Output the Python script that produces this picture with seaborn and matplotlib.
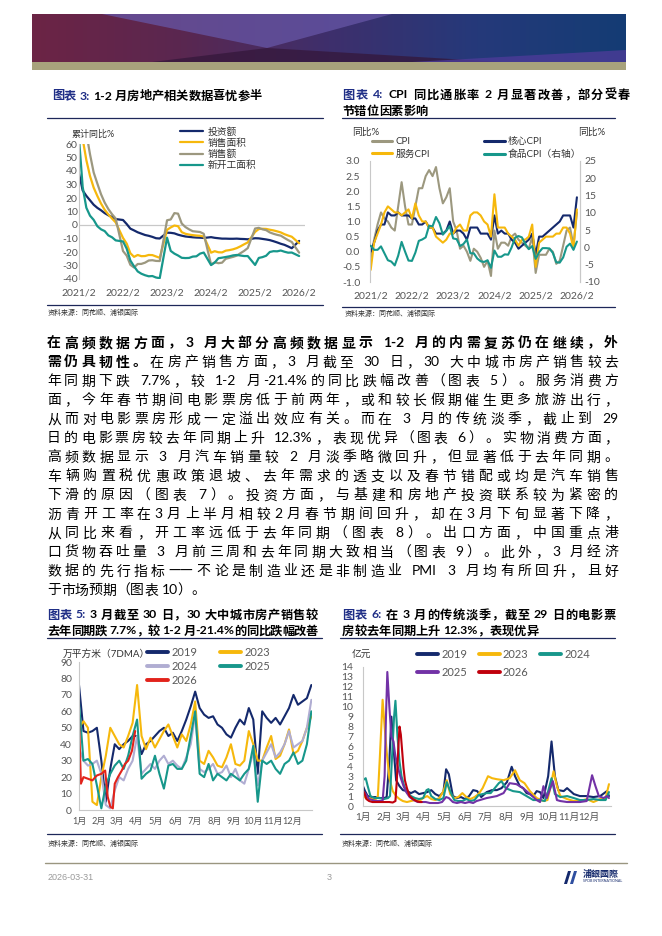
import re
import numpy as np
import pandas as pd
import seaborn as sns
import matplotlib
matplotlib.use('Agg')
import matplotlib.pyplot as plt
from matplotlib.lines import Line2D
from matplotlib.patches import Polygon

W, H = 662, 936

# ---------------- data ----------------
# chart 3: cumulative yoy %, monthly (no January)
re_series = ['投资额', '销售面积', '销售额', '新开工面积']
re_invest = [38.3, 25.6, 21.6, 18.3, 15.0, 12.7, 10.9, 8.8, 7.2, 6.0, 4.4,
             3.7, 0.7, -2.7, -4.0, -5.4, -6.4, -7.4, -8.0, -8.8, -9.8, -10.0,
             -5.7, -5.8, -6.2, -7.2, -7.9, -8.5, -8.8, -9.1, -9.3, -9.4, -9.6,
             -9.0, -9.5, -9.8, -10.1, -10.1, -10.2, -10.2, -10.1, -10.3, -10.4, -10.6,
             -9.8, -9.9, -10.3, -10.7, -11.2, -12.0, -12.9, -13.9, -14.7, -15.9, -17.2,
             -11.8]
re_area = [104.9, 63.8, 48.1, 36.3, 27.7, 21.5, 15.9, 11.3, 7.8, 4.8, 1.9,
           -9.6, -13.8, -20.9, -23.6, -22.2, -23.1, -23.0, -22.2, -22.3, -23.3, -24.3,
           -3.6, -1.8, -0.4, -0.9, -5.3, -6.5, -7.1, -7.5, -7.8, -8.0, -8.5,
           -20.5, -19.4, -20.2, -20.3, -19.0, -18.6, -18.0, -17.1, -15.8, -14.3, -12.9,
           -5.1, -3.0, -2.8, -2.9, -3.5, -4.0, -4.7, -5.5, -6.8, -7.8, -8.7,
           -13.5]
re_amount = [133.4, 88.5, 68.2, 52.4, 38.9, 30.7, 22.8, 16.6, 11.8, 8.0, 4.8,
             -19.3, -22.7, -29.5, -31.5, -28.9, -28.8, -27.9, -26.3, -26.1, -26.6, -26.7,
             3.5, 4.1, 8.8, 8.4, 1.1, -1.5, -3.2, -4.6, -4.9, -5.2, -6.5,
             -29.3, -27.6, -28.3, -27.9, -25.0, -24.3, -23.6, -22.7, -20.9, -19.2, -17.1,
             -2.6, -2.1, -3.2, -3.8, -5.5, -6.5, -7.3, -7.9, -9.6, -11.2, -12.6,
             -20.5]
re_newstart = [64.3, 28.2, 12.8, 6.9, 3.8, -0.9, -3.2, -4.5, -7.7, -9.1, -11.4,
               -12.2, -17.5, -26.3, -30.6, -34.4, -36.1, -37.2, -38.0, -37.8, -38.9, -39.4,
               -9.4, -19.2, -21.2, -22.6, -24.3, -24.5, -24.4, -23.4, -23.2, -21.2, -20.4,
               -29.7, -27.8, -24.6, -24.2, -23.7, -23.2, -22.5, -22.2, -22.6, -23.0, -23.0,
               -29.6, -24.4, -23.8, -22.8, -20.0, -19.4, -19.5, -18.9, -19.8, -20.5, -20.4,
               -23.0]
re_months = [p for p in pd.period_range('2021-02', '2026-02', freq='M') if p.month != 1]

# chart 4: CPI yoy %, 2021/2 - 2026/2
cpi_months = list(pd.period_range('2021-02', '2026-02', freq='M'))
cpi = [-0.2, 0.4, 0.9, 1.3, 1.1, 1.0, 0.8, 0.7, 1.5, 2.3, 1.5,
       0.9, 0.9, 1.5, 2.1, 2.1, 2.5, 2.7, 2.5, 2.8, 2.1, 1.6, 1.8,
       2.1, 1.0, 0.7, 0.1, 0.2, 0.0, -0.3, 0.1, 0.0, -0.2, -0.5, -0.3,
       -0.8, 0.7, 0.1, 0.3, 0.3, 0.2, 0.5, 0.6, 0.4, 0.3, 0.2, 0.1,
       0.5, -0.7, -0.1, -0.1, -0.1, 0.1, 0.0, -0.4, -0.3, 0.2, 0.7, 0.8,
       0.2, 1.3]
core_cpi = [0.0, 0.3, 0.7, 0.9, 0.9, 1.3, 1.2, 1.2, 1.3, 1.2, 1.2,
            1.2, 1.1, 1.1, 0.9, 0.9, 1.0, 0.8, 0.8, 0.6, 0.6, 0.6, 0.7,
            1.0, 0.6, 0.7, 0.7, 0.6, 0.4, 0.8, 0.8, 0.8, 0.6, 0.6, 0.6,
            0.4, 1.2, 0.6, 0.7, 0.6, 0.6, 0.4, 0.3, 0.1, 0.2, 0.3, 0.4,
            0.6, -0.1, 0.5, 0.5, 0.6, 0.7, 0.8, 0.9, 1.0, 1.2, 1.2, 1.2,
            0.8, 1.8]
service_cpi = [-0.6, 0.3, 0.6, 0.9, 1.3, 1.5, 1.4, 1.3, 1.3, 1.2, 1.3,
               1.4, 1.1, 1.6, 1.2, 1.0, 1.0, 0.8, 0.8, 0.5, 0.4, 0.3, 0.4,
               0.6, 0.6, 0.8, 0.9, 0.7, 0.7, 1.2, 1.3, 1.3, 1.2, 1.0, 0.9,
               0.5, 1.9, 0.8, 0.8, 0.8, 0.6, 0.5, 0.4, 0.2, 0.4, 0.4, 0.5,
               0.9, -0.5, 0.3, 0.4, 0.5, 0.5, 0.5, 0.6, 0.6, 0.8, 0.8, 0.6,
               0.1, 1.4]
food_cpi = [0.5, -0.7, -0.7, 0.3, -1.7, -3.7, -4.1, -5.2, -2.4, 1.6, -1.2,
            -3.8, -3.9, -1.5, 1.9, 2.3, 2.9, 6.3, 6.1, 8.8, 7.0, 3.7, 4.8,
            6.2, 2.6, 2.4, 0.4, 1.0, 2.3, -1.7, -1.7, -3.2, -4.0, -4.2, -3.7,
            -5.9, -0.9, -2.7, -2.7, -2.0, -2.1, 0.0, 2.8, 3.3, 2.9, 1.0, -0.5,
            0.4, -3.3, -1.4, -0.2, -0.2, -0.3, -1.6, -4.3, -4.4, -2.9, 0.2, 1.1,
            -0.7, 1.7]

# chart 5: 30-city property sales, 7DMA, sampled weekly by day of year
sales_days = np.arange(1, 366, 7)
sales_2019 = [76, 48, 47, 48, 50, 30, 5, 25, 40, 37, 40, 42, 45, 45, 34, 40, 42, 45, 48, 50,
              45, 47, 42, 48, 55, 63, 72, 62, 58, 56, 57, 52, 50, 46, 44, 50, 55, 52, 62, 55,
              22, 60, 56, 53, 56, 52, 57, 62, 70, 64, 66, 68, 76]
sales_2023 = [50, 54, 50, 5, 3, 20, 33, 50, 45, 40, 38, 45, 53, 76, 45, 37, 44, 38, 43, 48,
              52, 45, 38, 46, 42, 52, 66, 30, 28, 36, 32, 27, 26, 32, 40, 28, 27, 30, 48, 40,
              30, 30, 38, 45, 31, 33, 40, 49, 34, 36, 42, 50, 57]
sales_2024 = [38, 30, 27, 28, 30, 22, 3, 1, 12, 20, 18, 25, 30, 45, 22, 25, 28, 25, 30, 33,
              28, 30, 27, 25, 32, 40, 58, 25, 23, 25, 28, 22, 23, 27, 20, 25, 18, 16, 25, 35,
              15, 30, 35, 40, 32, 35, 40, 48, 38, 40, 42, 50, 67]
sales_2025 = [65, 30, 31, 28, 15, 1, 15, 22, 27, 30, 25, 33, 45, 55, 19, 22, 24, 33, 22, 13,
              27, 28, 25, 25, 30, 45, 60, 22, 20, 28, 18, 22, 20, 18, 22, 20, 18, 22, 25, 39,
              5, 30, 28, 30, 25, 22, 28, 30, 35, 28, 30, 40, 60]
sales_2026_days = [1, 4, 8, 15, 22, 29, 36, 42, 46, 50, 54, 57, 62, 68, 73, 78, 84, 89]
sales_2026 = [55, 16, 20, 19, 18, 21, 22, 24, 8, 2, 1, 16, 20, 24, 28, 30, 36, 48]

# chart 6: daily box office, 100m yuan
bo_2019_days = [1, 4, 8, 14, 20, 26, 32, 36, 40, 43, 46, 50, 55, 60, 66, 72, 78, 84, 90, 96,
                102, 108, 114, 120, 124, 128, 134, 140, 146, 152, 158, 164, 170, 176, 184, 192,
                199, 206, 214, 221, 226, 233, 238, 243, 248, 253, 258, 263, 268, 275, 280, 285,
                290, 298, 303, 313, 322, 332, 342, 352, 362, 365]
bo_2019 = [2.0, 1.5, 1.0, 0.9, 0.9, 0.8, 0.8, 0.9, 4.5, 9.0, 6.0, 2.6, 2.0, 1.6, 1.5, 1.3, 1.5,
           1.2, 1.3, 1.4, 1.6, 1.2, 1.0, 1.4, 3.7, 3.2, 1.0, 0.8, 0.9, 0.7, 1.0, 1.6, 1.5, 0.9,
           1.4, 1.6, 1.6, 1.8, 2.4, 3.95, 3.0, 2.0, 1.8, 1.3, 1.2, 1.0, 1.5, 1.4, 0.8, 3.0, 6.5,
           3.0, 1.6, 1.5, 1.8, 1.2, 1.0, 1.0, 0.9, 1.0, 1.5, 1.0]
bo_2023_days = [1, 5, 10, 15, 20, 23, 26, 30, 33, 36, 40, 45, 50, 55, 60, 66, 72, 78, 84, 90,
                96, 102, 108, 114, 120, 125, 130, 136, 142, 148, 154, 160, 166, 172, 178, 186,
                192, 199, 209, 218, 226, 233, 240, 248, 258, 268, 274, 278, 283, 288, 293, 303,
                313, 322, 332, 342, 352, 360, 365]
bo_2023 = [1.1, 0.8, 0.8, 0.7, 0.7, 1.0, 5.0, 10.7, 8.0, 5.5, 2.8, 1.5, 1.0, 0.7, 0.5, 0.4,
           0.5, 0.6, 0.5, 0.8, 1.0, 0.7, 0.6, 0.8, 1.5, 2.6, 1.2, 0.8, 0.9, 1.3, 0.9, 0.7, 0.9,
           1.2, 1.8, 3.0, 2.8, 2.7, 2.6, 2.8, 3.6, 2.6, 2.3, 1.5, 0.8, 0.5, 0.6, 1.8, 3.5, 2.0,
           1.0, 0.7, 0.5, 0.5, 0.7, 0.4, 0.7, 0.8, 2.2]
bo_2024_days = [1, 5, 8, 12, 18, 25, 32, 38, 41, 44, 47, 49, 52, 55, 58, 62, 66, 72, 78, 84,
                90, 95, 98, 102, 108, 114, 120, 125, 130, 136, 142, 148, 154, 160, 166, 172,
                178, 184, 190, 196, 202, 206, 212, 223, 233, 243, 253, 263, 270, 275, 280, 285,
                293, 303, 313, 322, 332, 342, 352, 360, 365]
bo_2024 = [2.6, 2.8, 2.0, 1.0, 0.8, 0.8, 0.7, 0.8, 1.0, 5.0, 9.0, 10.6, 7.0, 4.5, 3.0, 2.0,
           1.4, 1.0, 0.8, 0.7, 0.8, 1.6, 1.7, 1.0, 0.7, 0.6, 0.8, 2.4, 1.5, 0.6, 0.5, 0.5, 0.7,
           0.5, 0.6, 1.1, 1.2, 1.3, 1.3, 1.8, 2.3, 2.5, 1.8, 1.5, 1.4, 1.0, 0.6, 0.6, 0.5, 1.5,
           2.8, 1.2, 0.9, 1.0, 0.8, 0.6, 0.6, 0.7, 0.6, 0.6, 1.4]
bo_2025_days = [1, 5, 10, 15, 20, 25, 30, 33, 35, 37, 40, 43, 46, 49, 53, 57, 61, 65, 70, 76,
                82, 88, 94, 100, 106, 112, 118, 124, 128, 134, 140, 146, 152, 158, 164, 169,
                184, 199, 209, 218, 228, 238, 248, 258, 263, 268, 273, 282, 288, 293, 303, 313,
                322, 332, 340, 345, 350, 357, 362, 365]
bo_2025 = [1.5, 1.2, 0.7, 0.6, 0.5, 0.5, 0.5, 3.0, 9.0, 13.5, 10.0, 7.0, 6.5, 5.0, 3.8, 2.8,
           2.0, 1.4, 0.9, 0.6, 0.4, 0.4, 0.4, 0.3, 0.3, 0.3, 0.4, 0.9, 0.8, 0.4, 0.3, 0.4, 0.3,
           0.4, 0.3, 0.5, 0.8, 1.0, 1.3, 2.3, 2.2, 1.8, 1.2, 0.6, 0.4, 2.0, 0.8, 2.5, 0.6, 0.5,
           0.4, 0.4, 0.4, 0.5, 3.1, 2.0, 1.0, 0.8, 1.0, 0.8]
bo_2026_days = [1, 3, 6, 10, 15, 20, 25, 30, 35, 40, 45, 49, 51, 53, 55, 57, 59, 61, 63, 66,
                70, 75, 80, 85, 88]
bo_2026 = [1.5, 1.3, 0.7, 0.5, 0.4, 0.4, 0.4, 0.4, 0.4, 0.4, 0.35, 0.5, 2.5, 5.5, 8.0, 7.2,
           5.5, 3.8, 2.6, 1.8, 1.0, 0.7, 0.5, 0.4, 0.4]

month_starts = [1, 32, 60, 91, 121, 152, 182, 213, 244, 274, 305, 335]
month_labels = [f'{i}月' for i in range(1, 13)]

B, N = 'bold', 'normal'
body_lines = [
    [('在高频数据方面，3 月大部分高频数据显示 1-2 月的内需复苏仍在继续，外', B)],
    [('需仍具韧性。', B), ('在房产销售方面，3 月截至 30 日，30 大中城市房产销售较去', N)],
    [('年同期下跌 7.7%，较 1-2 月-21.4%的同比跌幅改善（图表 5）。服务消费方', N)],
    [('面，今年春节期间电影票房低于前两年，或和较长假期催生更多旅游出行，', N)],
    [('从而对电影票房形成一定溢出效应有关。而在 3 月的传统淡季，截止到 29', N)],
    [('日的电影票房较去年同期上升 12.3%，表现优异（图表 6）。实物消费方面，', N)],
    [('高频数据显示 3 月汽车销量较 2 月淡季略微回升，但显著低于去年同期。', N)],
    [('车辆购置税优惠政策退坡、去年需求的透支以及春节错配或均是汽车销售', N)],
    [('下滑的原因（图表 7）。投资方面，与基建和房地产投资联系较为紧密的', N)],
    [('沥青开工率在3月上半月相较2月春节期间回升，却在3月下旬显著下降，', N)],
    [('从同比来看，开工率远低于去年同期（图表 8）。出口方面，中国重点港', N)],
    [('口货物吞吐量 3 月前三周和去年同期大致相当（图表 9）。此外，3 月经济', N)],
    [('数据的先行指标——不论是制造业还是非制造业 PMI 3 月均有所回升，且好', N)],
    [('于市场预期（图表 10）。', N)],
]

# ---------------- style ----------------
NAVY = '#14296c'
YELLOW = '#f6b80c'
OLIVE = '#9c987f'
TEAL = '#17978b'
LAV = '#b0add2'
RED = '#e2231b'
DRED = '#c0000c'
PURPLE = '#7232a6'
TBLUE = '#1f2e86'
RULE = '#1d2759'
GRID = '#c8c8c8'
TICK = '#555555'

sns.set_style('white')
plt.rcParams['font.family'] = ['Lato', 'Noto Sans CJK SC', 'DejaVu Sans']
plt.rcParams['axes.unicode_minus'] = False

fig = plt.figure(figsize=(W / 100, H / 100), dpi=100)
renderer = fig.canvas.get_renderer()


def px_rect(x0, y0, x1, y1):
    return [x0 / W, 1 - y1 / H, (x1 - x0) / W, (y1 - y0) / H]


def hline(x0, x1, y, color, lw=0.9):
    fig.add_artist(Line2D([x0 / W, x1 / W], [1 - y / H, 1 - y / H], color=color, lw=lw))


def put(x, y, s, **kw):
    kw.setdefault('va', 'center')
    return fig.text(x / W, 1 - y / H, s, **kw)


def text_line(segs, x0, y, size, x1=None):
    # lay a line out token by token, spreading it to x1 when given
    toks = []
    for seg in segs:
        s, w = seg[0], seg[1]
        c = seg[2] if len(seg) > 2 else 'black'
        for t in re.findall(r'[0-9A-Za-z.%:\-]+|—+| |.', s):
            toks.append((t, w, c))
    arts, widths = [], []
    for t, w, c in toks:
        if t == ' ':
            arts.append(None)
            widths.append(size * 100 / 72 * 0.25)
            continue
        kw = {}
        if t.startswith('—'):
            kw['family'] = ['Noto Sans CJK SC']
        a = put(0, y, t, fontsize=size, fontweight=w, color=c, ha='left', **kw)
        widths.append(a.get_window_extent(renderer).width)
        arts.append(a)
    gap = 0
    if x1 is not None and len(toks) > 1:
        gap = (x1 - x0 - sum(widths)) / (len(toks) - 1)
    x = x0
    for a, wd in zip(arts, widths):
        if a is not None:
            a.set_x(x / W)
        x += wd + gap


def style_ax(ax, left=True, bottom=False, right=False, size=7.5):
    for k, s in ax.spines.items():
        s.set_visible(False)
    for k, on in (('left', left), ('bottom', bottom), ('right', right)):
        if on:
            ax.spines[k].set_visible(True)
            ax.spines[k].set_color(GRID)
            ax.spines[k].set_linewidth(0.8)
    ax.tick_params(length=0, labelsize=size, labelcolor=TICK)
    ax.set_xlabel('')
    ax.set_ylabel('')


# ---------------- header banner ----------------
bax = fig.add_axes(px_rect(32, 14, 626, 70))
grad = np.linspace(0, 1, 256)[None, :]
cmap = matplotlib.colors.LinearSegmentedColormap.from_list(
    'ban', ['#6c2445', '#5a2750', '#3e2f6c', '#25397a', '#143c74'])
bax.imshow(grad, aspect='auto', cmap=cmap, extent=(0, 594, 56, 0))
bax.add_patch(Polygon([(70, 0), (360, 0), (235, 34)], color='#6656a6', alpha=0.75, lw=0))
bax.add_patch(Polygon([(120, 48), (470, 48), (235, 34)], color='#34173a', alpha=0.75, lw=0))
bax.add_patch(Polygon([(380, 48), (594, 36), (594, 48)], color='#4c3b98', alpha=0.8, lw=0))
bax.add_patch(Polygon([(0, 48), (594, 48), (594, 56), (0, 56)], color='#a8a27c', lw=0))
bax.set_xlim(0, 594)
bax.set_ylim(56, 0)
bax.axis('off')

# ---------------- chart 3 ----------------
text_line([('图表 3: ', B, TBLUE), ('1-2 月房地产相关数据喜忧参半', B)], 52, 96, 8.8)
hline(47, 323, 118, RULE)
hline(47, 323, 305, RULE)
put(48, 312, '资料来源：同花顺、浦银国际', fontsize=5, color='#333333')

m_idx = [(p.year - 2021) * 12 + p.month - 2 for p in re_months]
df3 = pd.concat([pd.DataFrame({'m': m_idx, 'v': vals, 's': name})
                 for name, vals in zip(re_series, [re_invest, re_area, re_amount, re_newstart])])
ax3 = fig.add_axes(px_rect(79, 144, 305, 279))
sns.lineplot(data=df3, x='m', y='v', hue='s', hue_order=re_series,
             palette=[NAVY, YELLOW, OLIVE, TEAL], lw=1.6, estimator=None, ax=ax3)
ax3.axhline(0, color=GRID, lw=0.9, zorder=0)
ax3.set_ylim(-40, 60)
ax3.set_xlim(0, 61.6)
ax3.set_yticks(range(-40, 61, 10))
ax3.set_xticks(range(0, 61, 12))
ax3.set_xticklabels([f'{y}/2' for y in range(2021, 2027)])
style_ax(ax3)
ax3.tick_params(axis='y', pad=1)
ax3.tick_params(axis='x', pad=7)
h, l = ax3.get_legend_handles_labels()
leg = ax3.legend(h, l, loc='upper left', bbox_to_anchor=(180 / W, 1 - 127 / H),
                 bbox_transform=fig.transFigure, frameon=False, fontsize=7,
                 handlelength=2.4, handletextpad=0.4, labelspacing=0.18, borderpad=0,
                 borderaxespad=0)
for t in leg.get_texts():
    t.set_color('#333333')
put(72, 134, '累计同比%', fontsize=6.5, color='#333333', ha='left')

# ---------------- chart 4 ----------------
text_line([('图表 4: ', B, TBLUE), ('CPI 同比通胀率 2 月显著改善，部分受春', B)], 342, 95, 8.8, 630)
text_line([('节错位因素影响', B)], 342, 111, 8.8)
hline(342, 615, 118, RULE)
hline(342, 615, 307, RULE)
put(345, 313, '资料来源：同花顺、浦银国际', fontsize=5, color='#333333')

c_idx = [(p.year - 2021) * 12 + p.month - 2 for p in cpi_months]
left_names = ['CPI', '核心CPI', '服务CPI']
df4 = pd.concat([pd.DataFrame({'m': c_idx, 'v': vals, 's': name})
                 for name, vals in zip(left_names, [cpi, core_cpi, service_cpi])])
ax4 = fig.add_axes(px_rect(370, 161, 580, 282))
sns.lineplot(data=df4, x='m', y='v', hue='s', hue_order=left_names,
             palette=[OLIVE, NAVY, YELLOW], lw=1.5, estimator=None, ax=ax4, legend=False)
ax4r = ax4.twinx()
sns.lineplot(x=c_idx, y=food_cpi, color=TEAL, lw=1.5, ax=ax4r)
ax4.set_ylim(-1, 3)
ax4.set_yticks(np.arange(-1, 3.01, 0.5))
ax4.set_yticklabels([f'{v:.1f}' for v in np.arange(-1, 3.01, 0.5)])
ax4r.set_ylim(-10, 25)
ax4r.set_yticks(range(-10, 26, 5))
ax4.set_xlim(-0.2, 60.9)
ax4.set_xticks(range(0, 61, 12))
ax4.set_xticklabels([f'{y}/2' for y in range(2021, 2027)])
style_ax(ax4, right=True)
style_ax(ax4r, left=False, right=True)
ax4.tick_params(axis='y', pad=7)
ax4.tick_params(axis='x', pad=7)
ax4r.tick_params(axis='y', pad=3)
lh = [Line2D([], [], color=c, lw=2.2) for c in (OLIVE, YELLOW, NAVY, TEAL)]
leg = ax4.legend(lh, ['CPI', '服务CPI', '核心CPI', '食品CPI（右轴）'], ncol=2,
                 loc='upper left', bbox_to_anchor=(372 / W, 1 - 137 / H),
                 bbox_transform=fig.transFigure, frameon=False, fontsize=7,
                 handlelength=2.1, handletextpad=0.3, labelspacing=0.35,
                 columnspacing=5.6, borderpad=0, borderaxespad=0)
for t in leg.get_texts():
    t.set_color('#333333')
put(352, 132, '同比%', fontsize=7, color='#333333', ha='left')
put(578, 132, '同比%', fontsize=7, color='#333333', ha='left')

# ---------------- body text ----------------
for i, segs in enumerate(body_lines):
    last = i == len(body_lines) - 1
    text_line(segs, 47, 343 + 19 * i, 10, None if last else 618)

# ---------------- chart 5 ----------------
text_line([('图表 5: ', B, TBLUE), ('3 月截至 30 日，30 大中城市房产销售较', B)], 47, 615, 8.8, 318)
text_line([('去年同期跌 7.7%，较 1-2 月-21.4%的同比跌幅改善', B)], 47, 631, 8.8, 318)
hline(47, 322, 638, RULE)
hline(47, 322, 834, RULE)
put(48, 843, '资料来源：同花顺、浦银国际', fontsize=5, color='#333333')

years5 = ['2019', '2023', '2024', '2025', '2026']
df5 = pd.concat([pd.DataFrame({'d': sales_days, 'v': v, 's': y})
                 for y, v in zip(years5[:4], [sales_2019, sales_2023, sales_2024, sales_2025])] +
                [pd.DataFrame({'d': sales_2026_days, 'v': sales_2026, 's': '2026'})])
ax5 = fig.add_axes(px_rect(79, 662, 312, 810))
sns.lineplot(data=df5, x='d', y='v', hue='s', hue_order=years5,
             palette=[NAVY, YELLOW, LAV, TEAL, RED], lw=1.5, estimator=None, ax=ax5)
ax5.set_ylim(0, 90)
ax5.set_yticks(range(0, 91, 10))
ax5.set_xlim(1, 366)
ax5.set_xticks(month_starts)
ax5.set_xticklabels(month_labels)
style_ax(ax5, bottom=True)
ax5.tick_params(axis='y', pad=5)
ax5.tick_params(axis='x', pad=5, labelsize=6.6)
h, l = ax5.get_legend_handles_labels()
order = [0, 2, 4, 1, 3]
leg = ax5.legend([h[i] for i in order], [l[i] for i in order], ncol=2, loc='upper left',
                 bbox_to_anchor=(147 / W, 1 - 647 / H), bbox_transform=fig.transFigure,
                 frameon=False, fontsize=8, handlelength=1.9, handletextpad=0.3,
                 labelspacing=0.28, columnspacing=2.0, borderpad=0, borderaxespad=0)
for ln in leg.get_lines():
    ln.set_linewidth(2.8)
for t in leg.get_texts():
    t.set_color('#595959')
put(63, 654, '万平方米（7DMA）', fontsize=7, color='#333333', ha='left')

# ---------------- chart 6 ----------------
text_line([('图表 6: ', B, TBLUE), ('在 3 月的传统淡季，截至 29 日的电影票', B)], 342, 615, 8.8, 616)
text_line([('房较去年同期上升 12.3%，表现优异', B)], 342, 631, 8.8)
hline(340, 615, 638, RULE)
hline(340, 615, 834, RULE)
put(342, 843, '资料来源：同花顺、浦银国际', fontsize=5, color='#333333')

bo_sets = [('2019', bo_2019_days, bo_2019), ('2023', bo_2023_days, bo_2023),
           ('2024', bo_2024_days, bo_2024), ('2025', bo_2025_days, bo_2025),
           ('2026', bo_2026_days, bo_2026)]
df6 = pd.concat([pd.DataFrame({'d': d, 'v': v, 's': y}) for y, d, v in bo_sets])
ax6 = fig.add_axes(px_rect(363, 667, 611, 806))
sns.lineplot(data=df6, x='d', y='v', hue='s', hue_order=years5,
             palette=[NAVY, YELLOW, TEAL, PURPLE, DRED], lw=1.5, estimator=None, ax=ax6)
ax6.set_ylim(0, 14)
ax6.set_yticks(range(0, 15))
ax6.set_xlim(1, 368)
ax6.set_xticks(month_starts)
ax6.set_xticklabels(month_labels)
style_ax(ax6, bottom=True)
ax6.tick_params(axis='y', pad=7)
ax6.tick_params(axis='x', pad=5, labelsize=7)
h, l = ax6.get_legend_handles_labels()
order = [0, 3, 1, 4, 2]
leg = ax6.legend([h[i] for i in order], [l[i] for i in order], ncol=3, loc='upper left',
                 bbox_to_anchor=(417 / W, 1 - 649 / H), bbox_transform=fig.transFigure,
                 frameon=False, fontsize=8, handlelength=1.9, handletextpad=0.3,
                 labelspacing=0.6, columnspacing=1.0, borderpad=0, borderaxespad=0)
for ln in leg.get_lines():
    ln.set_linewidth(2.8)
for t in leg.get_texts():
    t.set_color('#595959')
put(352, 655, '亿元', fontsize=7, color='#333333', ha='left')

# ---------------- footer ----------------
hline(45, 627, 863, '#9a9680', lw=1.0)
put(48, 877, '2026-03-31', fontsize=6.5, color='#9a9a9a', ha='left', family='Liberation Sans')
put(327, 877, '3', fontsize=6.5, color='#9a9a9a', ha='left', family='Liberation Sans')
lax = fig.add_axes(px_rect(562, 868, 580, 886))
lax.add_patch(Polygon([(2, 16), (6, 3), (9, 3), (5, 16)], color=NAVY, lw=0))
lax.add_patch(Polygon([(8, 16), (12, 3), (15, 3), (11, 16)], color='#2f4fa0', lw=0))
lax.set_xlim(0, 18)
lax.set_ylim(18, 0)
lax.axis('off')
put(583, 874, '浦銀國際', fontsize=6.5, color=NAVY, ha='left', fontweight='bold',
    family=['Noto Sans CJK TC', 'Noto Sans CJK SC'])
put(583, 881, 'SPDB INTERNATIONAL', fontsize=2.6, color=NAVY, ha='left')

fig.savefig('out.png', dpi=100)
